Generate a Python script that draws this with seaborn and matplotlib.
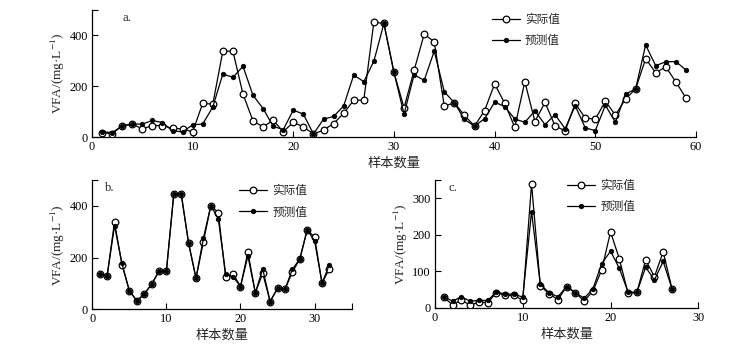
import matplotlib
matplotlib.use("Agg")
import matplotlib.pyplot as plt
import seaborn as sns
import pandas as pd

# Panel a: 59 samples
a_actual = [17, 13, 44, 51, 32, 45, 45, 34, 32, 20, 133, 129, 338, 338, 169, 63, 40, 66, 21, 58,
            40, 12, 27, 53, 93, 145, 145, 452, 447, 254, 115, 262, 405, 375, 121, 135, 85, 43, 104, 209,
            133, 38, 218, 61, 136, 44, 24, 132, 75, 70, 141, 86, 150, 189, 308, 253, 276, 217, 154]
a_pred = [21, 17, 44, 51, 51, 65, 57, 24, 20, 48, 51, 118, 248, 235, 278, 164, 112, 42, 29, 106,
          90, 12, 70, 81, 122, 244, 218, 298, 447, 254, 90, 245, 223, 338, 178, 135, 69, 43, 72, 137,
          120, 71, 58, 103, 49, 88, 33, 123, 36, 25, 125, 58, 169, 189, 362, 281, 296, 297, 264]

# Panel b: 32 samples
b_actual = [137, 129, 337, 173, 72, 33, 58, 97, 147, 147, 446, 446, 255, 120, 262, 401, 374, 124,
            137, 88, 221, 64, 139, 30, 81, 77, 144, 194, 307, 279, 101, 157]
b_pred = [137, 129, 323, 178, 72, 33, 58, 97, 147, 147, 446, 446, 255, 120, 276, 401, 350, 137,
          126, 88, 206, 64, 156, 30, 81, 77, 155, 194, 307, 265, 101, 173]

# Panel c: 27 samples
c_actual = [28, 8, 21, 7, 15, 14, 41, 34, 34, 20, 339, 60, 38, 22, 58, 41, 18, 46, 104, 208,
            134, 39, 42, 131, 85, 153, 52]
c_pred = [30, 18, 30, 18, 20, 20, 43, 37, 37, 29, 263, 64, 41, 30, 58, 41, 26, 52, 121, 155,
          108, 43, 42, 111, 76, 127, 52]

label_actual = "实际值"
label_pred = "预测值"
xlabel = "样本数量"
ylabel = "VFA/(mg·L$^{-1}$)"

sns.set_theme(style="ticks")
plt.rcParams["font.family"] = ["Liberation Serif", "Noto Sans CJK SC"]
plt.rcParams["mathtext.fontset"] = "stix"
plt.rcParams["axes.unicode_minus"] = False

fig = plt.figure(figsize=(7.49, 3.48), dpi=100)
ax_a = fig.add_axes([0.1228, 0.6063, 0.8064, 0.365])
ax_b = fig.add_axes([0.1232, 0.1112, 0.3463, 0.3716])
ax_c = fig.add_axes([0.5808, 0.1158, 0.3515, 0.367])

TICK_FS = 8.8
LABEL_FS = 9.5


def draw(ax, actual, pred, xlim, xticks, xlabels, ylim, yticks, ylabels, tag, leg_xy):
    df = pd.DataFrame({"n": list(range(1, len(actual) + 1)), "actual": actual, "pred": pred})
    sns.lineplot(data=df, x="n", y="actual", ax=ax, color="black", lw=0.9,
                 marker="o", markersize=4.8, markerfacecolor="white",
                 markeredgecolor="black", markeredgewidth=0.9, label=label_actual, zorder=3)
    sns.lineplot(data=df, x="n", y="pred", ax=ax, color="black", lw=0.9,
                 marker="o", markersize=3.3, markerfacecolor="black",
                 markeredgecolor="black", markeredgewidth=0.5, label=label_pred, zorder=4)
    ax.set_xlim(*xlim)
    ax.set_ylim(*ylim)
    ax.set_xticks(xticks)
    ax.set_xticklabels(xlabels, fontsize=TICK_FS)
    ax.set_yticks(yticks)
    ax.set_yticklabels(ylabels, fontsize=TICK_FS)
    ax.tick_params(direction="in", length=4, width=0.8, pad=3, colors="black")
    for side in ("top", "right"):
        ax.spines[side].set_visible(False)
    for side in ("left", "bottom"):
        ax.spines[side].set_linewidth(0.9)
        ax.spines[side].set_color("black")
    ax.set_xlabel(xlabel, fontsize=LABEL_FS, labelpad=3)
    ax.set_ylabel(ylabel, fontsize=LABEL_FS, labelpad=2)
    ax.text(0.05, 0.985, tag, transform=ax.transAxes, fontsize=9,
            ha="left", va="top")
    ax.legend(loc="upper left", bbox_to_anchor=leg_xy, frameon=False,
              fontsize=8.4, handlelength=2.4, handletextpad=0.45,
              labelspacing=0.8, borderaxespad=0, borderpad=0)


draw(ax_a, a_actual, a_pred, (0, 60), [0, 10, 20, 30, 40, 50, 60],
     ["0", "10", "20", "30", "40", "50", "60"],
     (0, 500), [0, 200, 400, 500], ["0", "200", "400", ""], "a.", (0.662, 0.97))
draw(ax_b, b_actual, b_pred, (0, 35), [0, 10, 20, 30, 35],
     ["0", "10", "20", "30", ""],
     (0, 500), [0, 200, 400, 500], ["0", "200", "400", ""], "b.", (0.566, 0.96))
draw(ax_c, c_actual, c_pred, (0, 30), [0, 10, 20, 30],
     ["0", "10", "20", "30"],
     (0, 350), [0, 100, 200, 300, 350], ["0", "100", "200", "300", ""], "c.", (0.501, 1.0))

fig.savefig("out.png", dpi=100)
